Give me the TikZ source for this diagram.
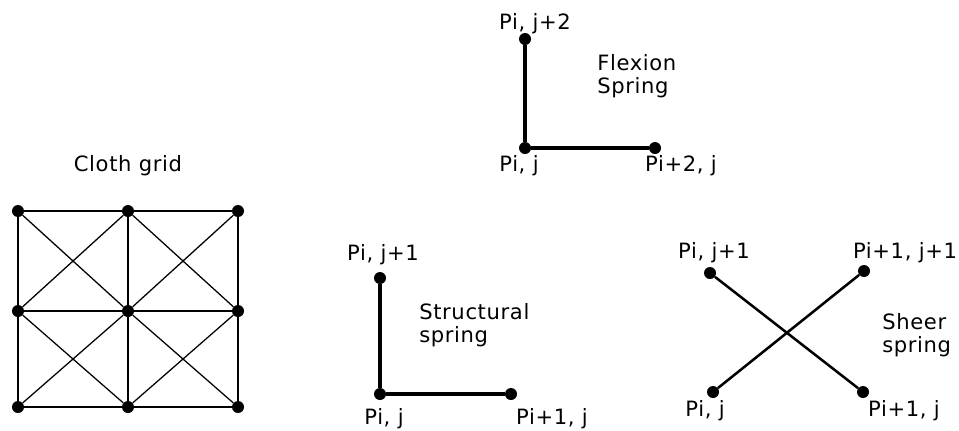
\documentclass[tikz,border=0pt]{standalone}
\usepackage{fontspec}
\setmainfont{DejaVu Sans}[LetterSpace=3]
\usepackage{tikz}
\usetikzlibrary{positioning}
\tikzset{
  dot/.style={circle,fill=black,inner sep=0pt,minimum size=0.3cm},
  lbl/.style={font=\fontsize{15}{16}\selectfont,inner sep=0pt},
  caption/.style={font=\fontsize{15}{16}\selectfont,inner sep=0pt,align=left,anchor=west},
  spring/.style={line width=2.6pt},
  xspring/.style={line width=1.8pt},
  gridline/.style={line width=1.6pt},
  diag/.style={line width=0.9pt}
}
\begin{document}
\begin{tikzpicture}[x=0.025cm,y=-0.025cm]
  \useasboundingbox (0,0) rectangle (959,430);

  % cloth grid
  \node[lbl] (title) at (128,166) {Cloth grid};
  \foreach \i/\x in {0/18,1/128,2/238}
    \foreach \j/\y in {0/211,1/311,2/407}
      \node[dot] (g\i\j) at (\x,\y) {};
  \foreach \j in {0,1,2}
    \draw[gridline] (g0\j) -- (g1\j) -- (g2\j);
  \foreach \i in {0,1,2}
    \draw[gridline] (g\i0) -- (g\i1) -- (g\i2);
  \foreach \i/\k in {0/1,1/2}
    \foreach \j/\l in {0/1,1/2} {
      \draw[diag] (g\i\j) -- (g\k\l);
      \draw[diag] (g\k\j) -- (g\i\l);
    }

  % flexion spring
  \node[dot] (fo) at (525,148) {};
  \node[dot] (fv) at (525,39) {};
  \node[dot] (fh) at (655,148) {};
  \draw[spring] (fv) -- (fo) -- (fh);
  \node[lbl] (fvl) at (535,24) {Pi, j+2};
  \node[lbl] (fol) at (519,166) {Pi, j};
  \node[lbl] (fhl) at (681,166) {Pi+2, j};
  \node[caption] (fcap) at (597,76) {Flexion\\Spring};

  % structural spring
  \node[dot] (so) at (380,394) {};
  \node[dot] (sv) at (380,278) {};
  \node[dot] (sh) at (511,394) {};
  \draw[spring] (sv) -- (so) -- (sh);
  \node[lbl] (svl) at (383,255) {Pi, j+1};
  \node[lbl] (sol) at (384,419) {Pi, j};
  \node[lbl] (shl) at (552,419) {Pi+1, j};
  \node[caption] (scap) at (419,325) {Structural\\spring};

  % sheer spring
  \node[dot] (tl) at (710,273) {};
  \node[dot] (tr) at (864,271) {};
  \node[dot] (bl) at (713,392) {};
  \node[dot] (br) at (863,392) {};
  \draw[xspring] (tl) -- (br);
  \draw[xspring] (bl) -- (tr);
  \node[lbl] (tll) at (714,253) {Pi, j+1};
  \node[lbl] (trl) at (905,253) {Pi+1, j+1};
  \node[lbl] (bll) at (705,411) {Pi, j};
  \node[lbl] (brl) at (904,411) {Pi+1, j};
  \node[caption] (xcap) at (882,335) {Sheer\\spring};
\end{tikzpicture}
\end{document}
